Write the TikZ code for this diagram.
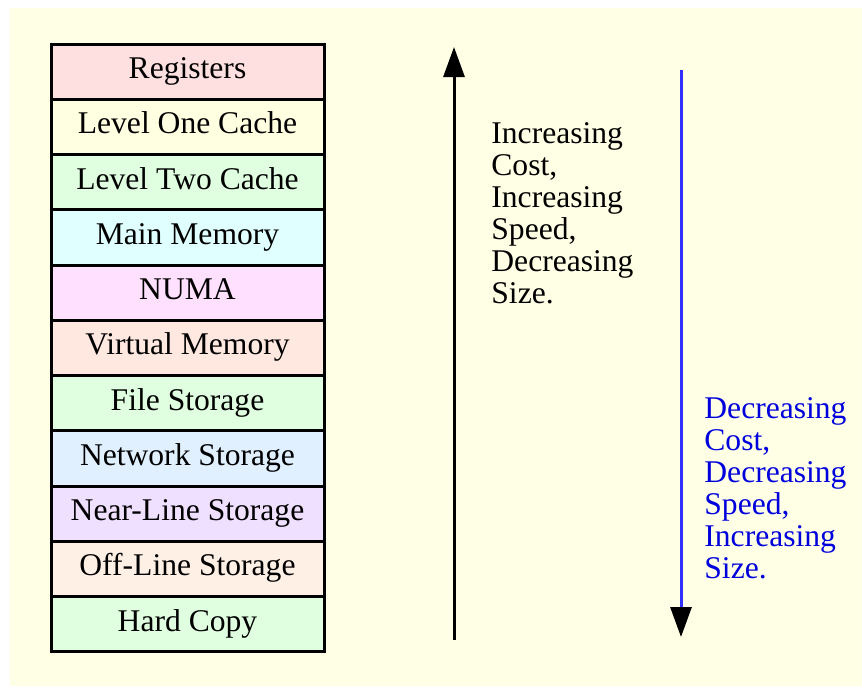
\documentclass[tikz,border=0pt]{standalone}
\usepackage{fontspec}
\setmainfont{Liberation Serif}
\usetikzlibrary{arrows.meta}
\definecolor{bgyellow}{HTML}{FFFFE6}
\definecolor{cReg}{HTML}{FFE0E0}
\definecolor{cLone}{HTML}{FFFFE2}
\definecolor{cLtwo}{HTML}{E0FFE0}
\definecolor{cMain}{HTML}{E0FFFF}
\definecolor{cNuma}{HTML}{FFE0FF}
\definecolor{cVirt}{HTML}{FFE8E0}
\definecolor{cFile}{HTML}{E0FFE0}
\definecolor{cNet}{HTML}{E0F0FF}
\definecolor{cNear}{HTML}{F0E0FF}
\definecolor{cOff}{HTML}{FFF0E6}
\definecolor{cHard}{HTML}{E0FFE0}
\definecolor{lineblue}{HTML}{3030FF}
\definecolor{textblue}{HTML}{0000DD}
\tikzset{
  layerbox/.style={draw=black, line width=1.5pt, minimum width=136.5pt,
    minimum height=27.64pt, inner sep=0pt, text height=10.8pt, text depth=3.9pt,
    font=\fontsize{15.8}{16}\selectfont},
  sidetext/.style={anchor=base west, align=left, inner sep=0pt,
    font=\fontsize{15.8}{16}\selectfont},
  bigarrow/.style={line width=1.5pt, -{Triangle[length=15pt,width=10.5pt,color=black]}}
}
\begin{document}
\begin{tikzpicture}[x=0.5pt,y=-0.5pt]
\useasboundingbox (0,0) rectangle (862,687);
\fill[bgyellow] (10,8) rectangle (862,686);
\foreach \t/\c [count=\i] in {Registers/cReg, Level One Cache/cLone,
  Level Two Cache/cLtwo, Main Memory/cMain, NUMA/cNuma,
  Virtual Memory/cVirt, File Storage/cFile, Network Storage/cNet,
  Near-Line Storage/cNear, Off-Line Storage/cOff, Hard Copy/cHard}
  \node[layerbox, fill=\c] (L\i) at (187.5, {44+55.27*(\i-0.5)}) {\t};
\coordinate (upS) at (454,640);
\coordinate (upE) at (454,47);
\draw[bigarrow, black] (upS) -- (upE);
\coordinate (downS) at (681,70);
\coordinate (downE) at (681,637);
\draw[bigarrow, lineblue] (downS) -- (downE);
\node[sidetext] (inc) at (491,303.2) {Increasing\\Cost,\\Increasing\\Speed,\\Decreasing\\Size.};
\node[sidetext, text=textblue] (dec) at (704,578.3) {Decreasing\\Cost,\\Decreasing\\Speed,\\Increasing\\Size.};
\end{tikzpicture}
\end{document}
